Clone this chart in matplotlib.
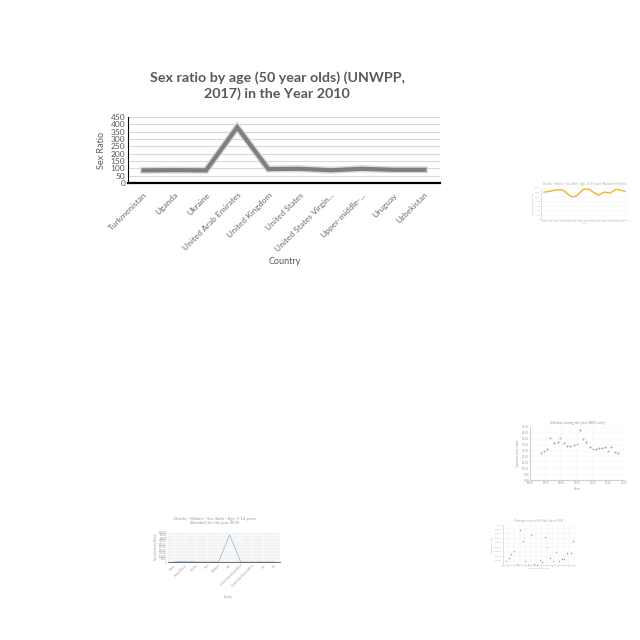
import matplotlib
matplotlib.use("Agg")
import matplotlib.pyplot as plt

plt.rcParams['font.family'] = ['Lato', 'DejaVu Sans']

# main chart
countries = ["Turkmenistan", "Uganda", "Ukraine", "United Arab Emirates", "United Kingdom",
             "United States", "United States Virgin...", "Upper-middle-...", "Uruguay", "Uzbekistan"]
sex_ratio = [86, 88, 86, 380, 95, 97, 87, 97, 90, 90]

# thumbnail: yellow line
malaria_years = list(range(1990, 2018))
malaria_deaths = [1220, 1240, 1260, 1290, 1310, 1320, 1320, 1250, 1120, 1040, 1020, 1080, 1200,
                  1330, 1360, 1340, 1260, 1170, 1090, 1140, 1220, 1200, 1180, 1260, 1340, 1320, 1280, 1260]

# thumbnail: inflation scatter
infl_years = [1967, 1969, 1971, 1973, 1975.5, 1977.6, 1979.4, 1981.5, 1983.7, 1985.8, 1988, 1989.7,
              1991.6, 1993.8, 1995.9, 1998, 2000.2, 2002.4, 2004, 2006.2, 2007.7, 2009.8, 2012, 2014.2, 2016.3]
infl_values = [23.2, 24.6, 26.3, 35.4, 31.1, 32.0, 35.9, 31.1, 28.9, 28.9, 29.7, 30.2,
               42.4, 34.5, 32.0, 28.3, 26.3, 26.0, 26.9, 27.4, 27.7, 24.6, 27.7, 24.0, 23.2]

# thumbnail: malaria by country
mal_countries = ["Ghana", "Guinea-Bissau", "Guyana", "Haiti", "Honduras", "India",
                 "Central Sub-Saharan Africa", "Eastern Sub-Saharan Africa", "Iran", "Iraq"]
mal_deaths = [300, 1200, 150, 0, 0, 45000, 0, 0, 0, 0]

# thumbnail: passengers scatter
metro_x = [1.2, 2.1, 3.0, 4.0, 5.1, 6.3, 7.3, 8.1, 9.1, 10.0, 11.1, 12.1, 13.3, 14.1, 15.1, 16.0,
           16.9, 18.1, 19.1, 20.2, 21.2, 22.1, 23.2, 24.4, 25.3]
metro_pass = [1.0, 1.5, 2.5, 3.2, 0.2, 7.8, 5.4, 0.9, 0.0, 6.8, 0.2, 0.0, 1.2, 0.6, 6.2, 4.0,
              1.5, 0.9, 2.9, 0.8, 1.3, 1.3, 2.8, 2.7, 5.4]


def px(l, t, r, b):
    return [l / 640, 1 - b / 640, (r - l) / 640, (b - t) / 640]


fig = plt.figure(figsize=(6.4, 6.4), dpi=100)

#Main chart
ax = fig.add_axes(px(128, 117, 440, 183))
xs = range(len(countries))
ax.plot(xs, sex_ratio, color="#cfcfcf", lw=5, alpha=0.8, solid_joinstyle="miter", zorder=2)
ax.plot(xs, sex_ratio, color="#7f7f7f", lw=3, solid_joinstyle="miter", zorder=3)
ax.set_xlim(-0.5, len(countries) - 0.5)
ax.set_ylim(0, 450)
ax.set_yticks(range(0, 451, 50))
ax.grid(axis="y", color="#d9d9d9", lw=0.8)
ax.set_axisbelow(True)
ax.set_xticks(list(xs))
ax.set_xticklabels(countries, rotation=45, ha="right", rotation_mode="anchor")
ax.tick_params(length=0, labelsize=6, labelcolor="#595959", pad=2)
ax.tick_params(axis="x", labelsize=6, labelcolor="#6a6a6a", pad=6)
for s in ["top", "right"]:
    ax.spines[s].set_visible(False)
ax.spines["left"].set_color("black")
ax.spines["bottom"].set_color("black")
ax.spines["bottom"].set_linewidth(1.6)
ax.set_ylabel("Sex Ratio", fontsize=6.5, color="#595959", labelpad=3)
fig.text(285 / 640, 1 - 261 / 640, "Country", fontsize=6.5, color="#595959", ha="center", va="center")
fig.text(277 / 640, 1 - 86 / 640, "Sex ratio by age (50 year olds) (UNWPP,\n2017) in the Year 2010",
         fontsize=10.3, fontweight="bold", color="#595959", ha="center", va="center", linespacing=1.3)

# Thumbnail 1
t1 = fig.add_axes(px(541, 188, 628, 220))
t1.plot(malaria_years, malaria_deaths, color="#f0b429", lw=1.0)
t1.set_ylim(0, 1400)
t1.set_xlim(1989, 2018)
t1.set_yticks(range(0, 1401, 200))
t1.set_xticks(malaria_years[::2])
t1.grid(axis="y", color="#eeeeee", lw=0.3)
t1.tick_params(labelsize=1.6, labelcolor="#aaaaaa", length=0, pad=0.5)
for s in ["top", "right"]:
    t1.spines[s].set_visible(False)
for s in ["left", "bottom"]:
    t1.spines[s].set_color("#cccccc")
    t1.spines[s].set_linewidth(0.4)
t1.set_ylabel("No. of deaths (Malaria)", fontsize=1.6, color="#aaaaaa", labelpad=1)
t1.set_xlabel("Years", fontsize=1.6, color="#aaaaaa", labelpad=1)
t1.set_title("Deaths - Malaria - Sex: Both - Age: 15-49 years (Number) in Nigeria",
             fontsize=2, color="#aaaaaa", pad=2)

# Thumbnail 2
t2 = fig.add_axes(px(530, 427, 624, 480))
t2.scatter(infl_years, infl_values, s=2, color="#a0a0a0", lw=0)
t2.set_xlim(1960, 2020)
t2.set_ylim(0, 45)
t2.set_yticks(range(0, 46, 5))
t2.set_yticklabels([f"{v:.2f}" for v in range(0, 46, 5)])
t2.set_xticks(range(1960, 2021, 10))
t2.grid(color="#eeeeee", lw=0.3)
t2.tick_params(labelsize=2, labelcolor="#999999", length=0, pad=0.8)
for s in ["top", "right"]:
    t2.spines[s].set_visible(False)
for s in ["left", "bottom"]:
    t2.spines[s].set_color("#bbbbbb")
    t2.spines[s].set_linewidth(0.5)
t2.set_ylabel("Consumer price index", fontsize=2, color="#999999", labelpad=1)
t2.set_xlabel("Years", fontsize=2, color="#999999", labelpad=1)
t2.set_title("Inflation during the year (BRO only)", fontsize=2.5, color="#999999", pad=2)

# Thumbnail 3
t3 = fig.add_axes(px(168, 532, 280, 562))
t3.set_facecolor("#f3f3f3")
t3.plot(range(len(mal_countries)), mal_deaths, color="#8ab4d8", lw=0.5)
t3.set_xlim(-0.5, len(mal_countries) - 0.5)
t3.set_ylim(0, 50000)
t3.set_yticks(range(0, 50001, 5000))
t3.set_xticks(range(len(mal_countries)))
t3.set_xticklabels(mal_countries, rotation=45, ha="right", rotation_mode="anchor")
t3.grid(color="white", lw=0.4)
t3.tick_params(labelsize=1.8, labelcolor="#999999", length=0, pad=1)
for s in ["top", "right", "left"]:
    t3.spines[s].set_visible(False)
t3.spines["bottom"].set_color("#555555")
t3.spines["bottom"].set_linewidth(0.6)
t3.set_ylabel("No. of deaths by Malaria", fontsize=1.8, color="#999999", labelpad=1)
fig.text(228 / 640, 1 - 597 / 640, "Country", fontsize=1.8, color="#999999", ha="center", va="center")
fig.text(215 / 640, 1 - 521 / 640, "Deaths - Malaria - Sex: Both - Age: 5-14 years\n(Number) for the year 2005",
         fontsize=3, color="#999999", ha="center", va="center", linespacing=1.3)

# Thumbnail 4
t4 = fig.add_axes(px(503, 525, 575, 565))
t4.scatter(metro_x, metro_pass, s=1.0, color="#6f93b8", lw=0)
t4.set_xlim(0, 26)
t4.set_ylim(0, 9)
t4.set_xticks(range(0, 27, 2))
t4.set_yticks(range(0, 10, 1))
t4.set_yticklabels([f"{v * 1000000}" for v in range(0, 10)])
t4.grid(color="#eeeeee", lw=0.3)
t4.tick_params(labelsize=1.4, labelcolor="#aaaaaa", length=0, pad=0.5)
for s in ["top", "right"]:
    t4.spines[s].set_visible(False)
for s in ["left", "bottom"]:
    t4.spines[s].set_color("#cccccc")
    t4.spines[s].set_linewidth(0.4)
t4.set_ylabel("Passengers count", fontsize=1.5, color="#aaaaaa", labelpad=1)
t4.set_xlabel("Number of Metro lines", fontsize=1.5, color="#aaaaaa", labelpad=1)
t4.set_title("Passengers count in 26 Metro Cities in 1994", fontsize=1.8, color="#aaaaaa", pad=2)

fig.savefig("out.png", dpi=100, facecolor="white")
